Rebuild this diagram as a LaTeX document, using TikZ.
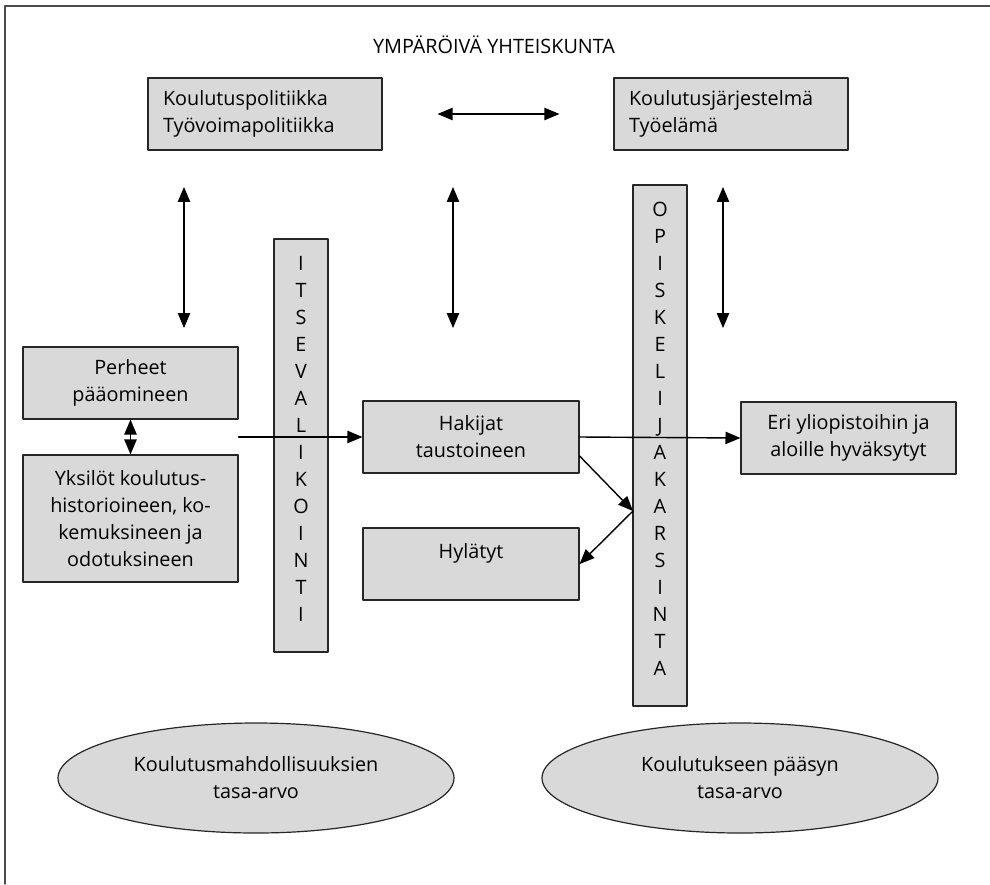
\documentclass[tikz,border=0pt]{standalone}
\usepackage{fontspec}
\setmainfont{Open Sans}
\usetikzlibrary{arrows,shapes.geometric}

\begin{document}
\begin{tikzpicture}[line cap=round,line join=round,>=triangle 45,x=0.5pt,y=-0.5pt,
  font=\fontsize{9.9}{13.5}\selectfont,
  box/.style={draw=black!85,line width=0.6pt,fill=black!15,minimum height=36pt,align=center},
  bar/.style={draw=black!85,line width=0.6pt,fill=black!15,minimum width=27pt,align=center,text depth=7pt},
  oval/.style={draw=black!85,line width=0.6pt,fill=black!15,ellipse,minimum width=198pt,minimum height=55pt,align=center},
  link/.style={line width=0.7pt}]
\useasboundingbox (0,0) rectangle (990,884);
\draw[black!70,line width=0.7pt] (5,884) -- (5,6) -- (990,6);

\node (society) at (494,45) {YMPÄRÖIVÄ YHTEISKUNTA};
\node[box,minimum width=117pt,text width=102pt,align=left] (policy) at (265,114) {Koulutuspolitiikka\\Työvoimapolitiikka};
\node[box,minimum width=117pt,text width=102pt,align=left] (system) at (731,114) {Koulutusjärjestelmä\\Työelämä};

\node[box,minimum width=107.5pt] (families) at (130.5,383) {Perheet\\pääomineen};
\node[box,minimum width=107.5pt,minimum height=63.5pt] (persons) at (130.5,518.5) {Yksilöt koulutus-\\historioineen, ko-\\kemuksineen ja\\odotuksineen};
\node[box,minimum width=108pt] (applicants) at (471,437) {Hakijat\\taustoineen};
\node[box,minimum width=108pt] (rejected) at (471,564) {Hylätyt\\~};
\node[box,minimum width=107.5pt] (accepted) at (848.5,438) {Eri yliopistoihin ja\\aloille hyväksytyt};

\node[bar,minimum height=206.5pt] (selfsel) at (301,445.5) {I\\T\\S\\E\\V\\A\\L\\I\\K\\O\\I\\N\\T\\I};
\node[bar,minimum height=260.5pt] (screen) at (660,445.5) {O\\P\\I\\S\\K\\E\\L\\I\\J\\A\\K\\A\\R\\S\\I\\N\\T\\A};

\node[oval] (eqopp) at (256,778) {Koulutusmahdollisuuksien\\tasa-arvo};
\node[oval] (eqacc) at (740,778) {Koulutukseen pääsyn\\tasa-arvo};

\coordinate (v1top) at (184,187);
\coordinate (v1bot) at (184,328);
\coordinate (v2top) at (453,187);
\coordinate (v2bot) at (453,328);
\coordinate (v3top) at (723,187);
\coordinate (v3bot) at (723,328);
\coordinate (cut) at (633,511);

\draw[link,<->,shorten <=27.5pt,shorten >=27pt] (policy.east) -- (system.west);
\draw[link,<->] (v1top) -- (v1bot);
\draw[link,<->] (v2top) -- (v2bot);
\draw[link,<->] (v3top) -- (v3bot);
\draw[link,<->] (families) -- (persons);
\draw[link,->] (families.east |- applicants.west) -- (applicants.west);
\draw[link,->] (applicants.east) -- (accepted.west);
\draw[link,->] ([yshift=-9.5pt]applicants.east) -- (cut);
\draw[link,->] (cut) -- (rejected.east);

\end{tikzpicture}
\end{document}
